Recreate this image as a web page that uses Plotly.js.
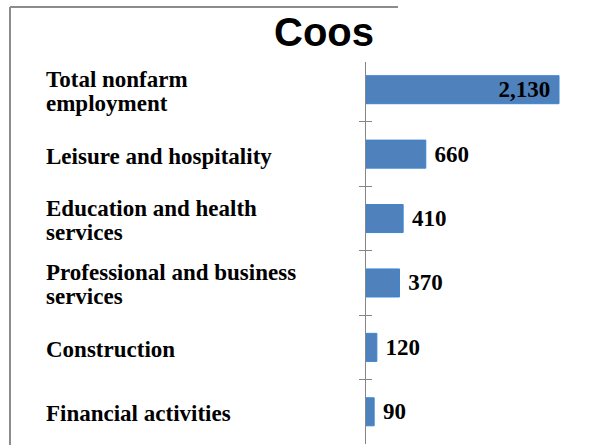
<!DOCTYPE html>
<html><head><meta charset="utf-8">
<script src="https://cdn.plot.ly/plotly-3.0.1.min.js"></script>
<style>html,body{margin:0;padding:0;background:#fff}#chart{width:611px;height:445px}</style>
</head><body><div id="chart"></div>
<script>
const categories = ["Total nonfarm<br>employment", "Leisure and hospitality", "Education and health<br>services", "Professional and business<br>services", "Construction", "Financial activities"];
const values = [2130, 660, 410, 370, 120, 90];
const labelPositions = ["inside", "outside", "outside", "outside", "outside", "outside"];
const chartTitle = "Coos";

const L = 366, R = 11, T = 62, B = 1, W = 611, H = 445;
const pw = W - L - R, ph = H - T - B;
const px = v => (v - L) / pw;
const py = v => 1 - (v - T) / ph;

const ids = categories.map((c, i) => 'c' + i);

const trace = {
  type: 'bar', orientation: 'h',
  y: ids, x: values,
  marker: {color: '#4F81BD', line: {color: '#3C85D0', width: 1}},
  text: values.map(v => v.toLocaleString('en-US')),
  texttemplate: labelPositions.map(p => p === 'inside' ? '%{text}\u00a0' : '\u00a0%{text}'),
  textposition: labelPositions,
  insidetextanchor: 'end',
  constraintext: 'none',
  textfont: {family: 'Liberation Serif', size: 23, color: '#000', weight: 'bold'},
  cliponaxis: false,
  hoverinfo: 'skip'
};
const ghost = {
  type: 'scatter', mode: 'markers', y: ids, x: values, yaxis: 'y2',
  marker: {opacity: 0}, hoverinfo: 'skip', showlegend: false
};

const annotations = [];
categories.forEach((c, i) => {
  const lines = c.split('<br>');
  lines.forEach((ln, j) => {
    annotations.push({
      xref: 'paper', yref: 'y', x: px(44), y: ids[i],
      xanchor: 'left', yanchor: 'middle', align: 'left', showarrow: false,
      text: ln, yshift: ((lines.length - 1) / 2 - j) * 24 - 2,
      font: {family: 'Liberation Serif', size: 23, color: '#000', weight: 'bold'}
    });
  });
});

const yax = {
  type: 'category', categoryorder: 'array', categoryarray: ids,
  range: [5.5, -0.43], showticklabels: false, tickson: 'boundaries',
  showline: true, linecolor: '#868686', linewidth: 1, showgrid: false, zeroline: false,
  tickcolor: '#868686', ticklen: 6, fixedrange: true
};
const layout = {
  width: W, height: H,
  margin: {l: L, r: R, t: T, b: B},
  paper_bgcolor: '#fff', plot_bgcolor: 'rgba(0,0,0,0)',
  showlegend: false, bargap: 0.565,
  title: {text: chartTitle, font: {family: 'Liberation Sans', size: 40, color: '#000', weight: 'bold'},
          xref: 'container', yref: 'container', x: 324 / W, xanchor: 'center', y: 1 - 32 / H, yanchor: 'middle'},
  xaxis: {range: [0, pw / (193 / 2130)], visible: false, fixedrange: true},
  yaxis: Object.assign({}, yax, {ticks: 'outside'}),
  yaxis2: Object.assign({}, yax, {ticks: 'inside', overlaying: 'y', side: 'left', showline: false}),
  annotations: annotations,
  shapes: [
    {type: 'line', xref: 'paper', yref: 'paper', x0: px(10), x1: px(10), y0: py(7), y1: py(445), line: {color: '#8c8c8c', width: 2}},
    {type: 'line', xref: 'paper', yref: 'paper', x0: px(10), x1: px(398), y0: py(7), y1: py(7), line: {color: '#8c8c8c', width: 2}}
  ]
};
Plotly.newPlot('chart', [trace, ghost], layout, {displayModeBar: false, staticPlot: true});
</script></body></html>
